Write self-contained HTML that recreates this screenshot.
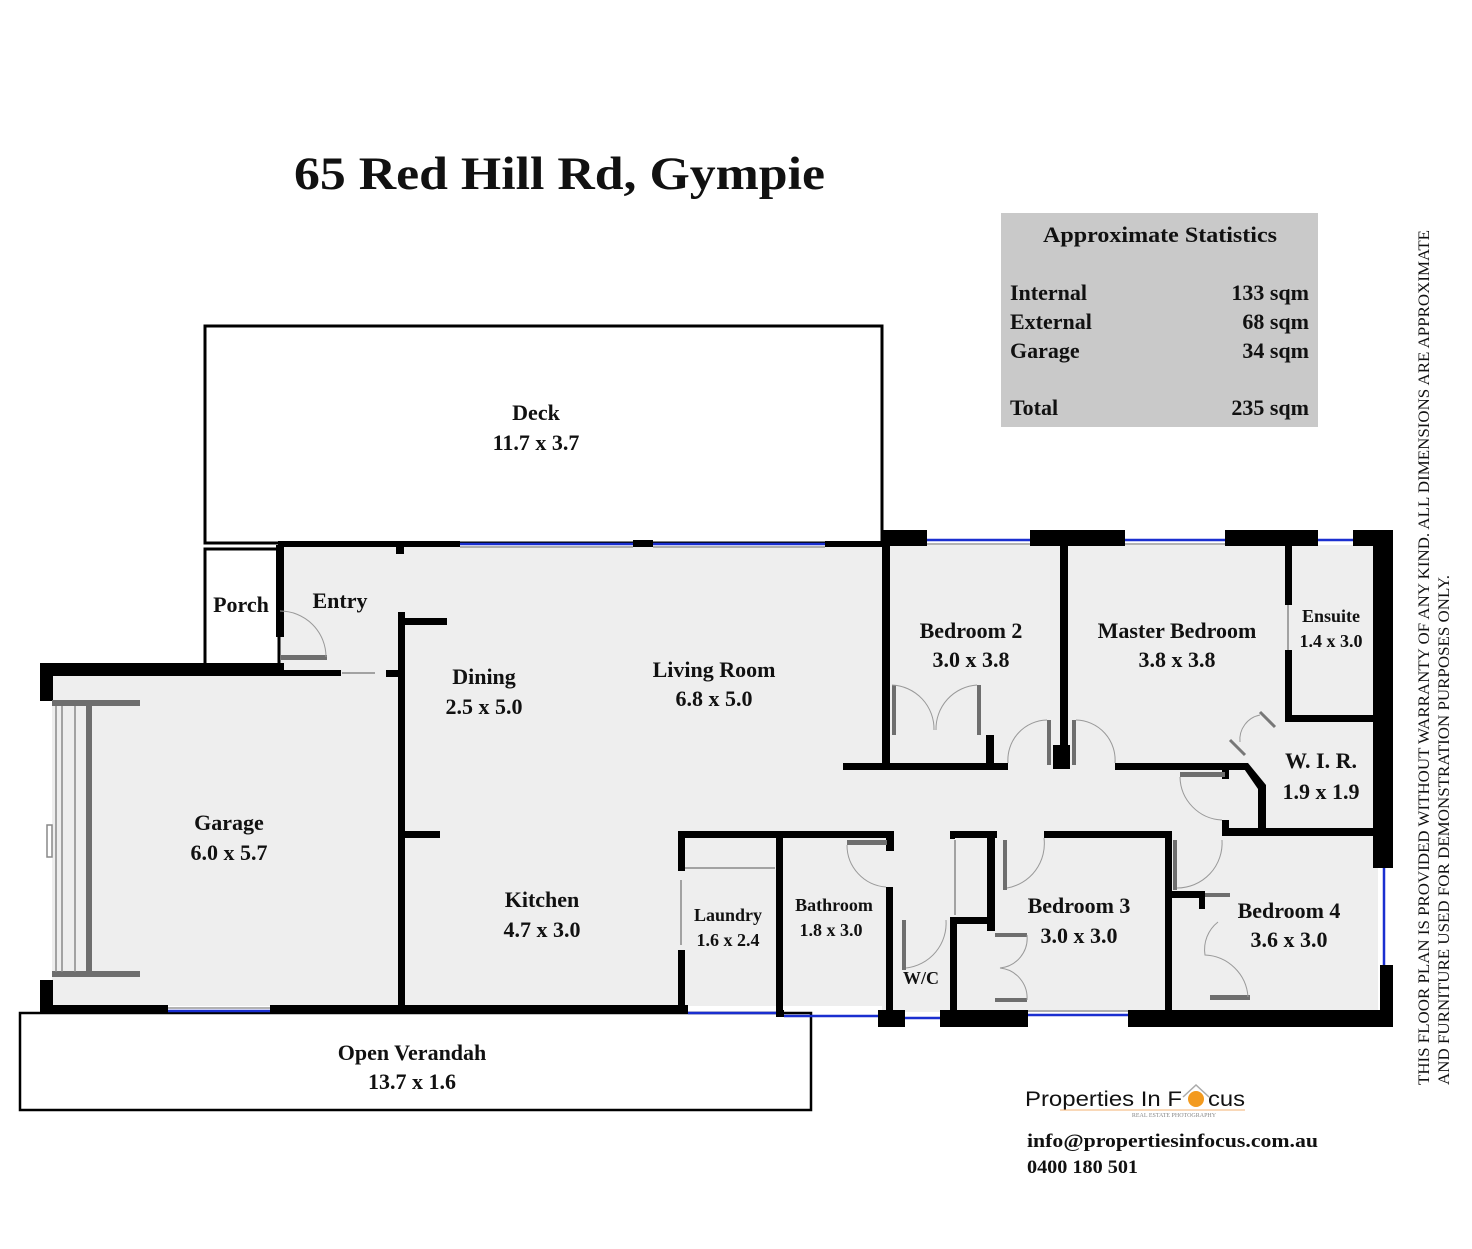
<!DOCTYPE html>
<html><head><meta charset="utf-8">
<style>
html,body{margin:0;padding:0;background:#fff;}
svg{display:block;}
text{font-family:"Liberation Serif",serif;fill:#111;}
</style></head>
<body>
<svg width="1472" height="1249" viewBox="0 0 1472 1249" xmlns="http://www.w3.org/2000/svg">
<rect width="1472" height="1249" fill="#fff"/>
<!-- title -->
<text x="294" y="189" font-size="47" font-weight="bold" textLength="531" lengthAdjust="spacingAndGlyphs">65 Red Hill Rd, Gympie</text>
<!-- stats -->
<rect x="1001" y="213" width="317" height="214" fill="#c9c9c9"/>
<text x="1043" y="242" font-size="22" font-weight="bold" textLength="234" lengthAdjust="spacingAndGlyphs">Approximate Statistics</text>
<g font-size="22" font-weight="bold">
<text x="1010" y="300">Internal</text><text x="1309" y="300" text-anchor="end">133 sqm</text>
<text x="1010" y="329">External</text><text x="1309" y="329" text-anchor="end">68 sqm</text>
<text x="1010" y="358">Garage</text><text x="1309" y="358" text-anchor="end">34 sqm</text>
<text x="1010" y="415">Total</text><text x="1309" y="415" text-anchor="end">235 sqm</text>
</g>
<!-- vertical disclaimer -->
<text transform="translate(1429,1085) rotate(-90)" font-size="15.5" textLength="855" lengthAdjust="spacingAndGlyphs">THIS FLOOR PLAN IS PROVIDED WITHOUT WARRANTY OF ANY KIND. ALL DIMENSIONS ARE APPROXIMATE</text>
<text transform="translate(1449,1085) rotate(-90)" font-size="15.5" textLength="510" lengthAdjust="spacingAndGlyphs">AND FURNITURE USED FOR DEMONSTRATION PURPOSES ONLY.</text>

<!-- floor fills -->
<rect x="52" y="676" width="348" height="330" fill="#eee"/>
<rect x="280" y="546" width="602" height="460" fill="#eee"/>
<rect x="882" y="545" width="496" height="467" fill="#eee"/>
<!-- deck -->
<rect x="205" y="326" width="677" height="217" fill="#fff" stroke="#000" stroke-width="3"/>
<!-- porch -->
<rect x="205" y="549" width="74" height="116" fill="#fff" stroke="#000" stroke-width="3"/>
<!-- verandah -->
<rect x="20" y="1013" width="791" height="97" fill="#fff" stroke="#000" stroke-width="2.5"/>

<g fill="#000">
<rect x="278" y="541" width="182" height="6"/>
<rect x="633" y="540" width="20" height="7"/>
<rect x="825" y="541" width="60" height="6"/>
<rect x="396" y="546" width="8" height="8"/>
<rect x="276" y="545" width="8" height="92"/>
<rect x="40" y="663" width="244" height="13"/>
<rect x="284" y="670" width="57" height="6"/>
<rect x="386" y="670" width="12" height="7"/>
<rect x="40" y="663" width="13" height="38"/>
<rect x="40" y="980" width="13" height="33"/>
<rect x="398" y="612" width="7" height="400"/>
<rect x="405" y="618" width="42" height="7"/>
<rect x="405" y="831" width="35" height="7"/>
<rect x="40" y="1005" width="128" height="9"/>
<rect x="270" y="1005" width="418" height="9"/>
<rect x="678" y="831" width="216" height="7"/>
<rect x="678" y="831" width="7" height="40"/>
<rect x="678" y="950" width="7" height="62"/>
<rect x="776" y="831" width="7" height="181"/>
<rect x="886" y="831" width="8" height="20"/>
<rect x="886" y="887" width="7" height="135"/>
<rect x="882" y="530" width="45" height="16"/>
<rect x="1030" y="530" width="95" height="16"/>
<rect x="1225" y="530" width="93" height="16"/>
<rect x="1353" y="530" width="40" height="16"/>
<rect x="1373" y="530" width="20" height="338"/>
<rect x="1380" y="965" width="13" height="60"/>
<rect x="882" y="545" width="8" height="224"/>
<rect x="843" y="763" width="165" height="7"/>
<rect x="1060" y="545" width="8" height="224"/>
<rect x="1053" y="745" width="17" height="24"/>
<rect x="1115" y="763" width="130" height="7"/>
<rect x="986" y="735" width="8" height="30"/>
<rect x="1285" y="545" width="7" height="60"/>
<rect x="1285" y="650" width="7" height="70"/>
<rect x="1285" y="715" width="93" height="7"/>
<polygon points="1240,763 1248,763 1266,785 1266,835 1258,835 1258,789"/>
<rect x="1222" y="828" width="156" height="8"/>
<rect x="1222" y="769" width="7" height="10"/>
<rect x="1222" y="820" width="7" height="10"/>
<rect x="950" y="831" width="47" height="7"/>
<rect x="987" y="831" width="8" height="100"/>
<rect x="950" y="831" width="5" height="8"/>
<rect x="950" y="917" width="45" height="7"/>
<rect x="950" y="917" width="7" height="98"/>
<rect x="1044" y="831" width="128" height="7"/>
<rect x="1165" y="831" width="7" height="180"/>
<rect x="1172" y="891" width="30" height="7"/>
<rect x="1199" y="891" width="6" height="18"/>
<rect x="878" y="1010" width="27" height="17"/>
<rect x="940" y="1010" width="88" height="17"/>
<rect x="1128" y="1010" width="265" height="17"/>
<rect x="776" y="1010" width="8" height="7"/>
</g>

<g stroke="#1a2fd0" stroke-width="2.5">
<line x1="460" y1="544" x2="633" y2="544"/>
<line x1="653" y1="544" x2="825" y2="544"/>
<line x1="927" y1="540" x2="1030" y2="540"/>
<line x1="1125" y1="540" x2="1225" y2="540"/>
<line x1="1318" y1="540" x2="1353" y2="540"/>
<line x1="168" y1="1011" x2="270" y2="1011"/>
<line x1="688" y1="1013" x2="776" y2="1013"/>
<line x1="784" y1="1016" x2="878" y2="1016"/>
<line x1="905" y1="1018" x2="940" y2="1018"/>
<line x1="1028" y1="1015" x2="1128" y2="1015"/>
<line x1="1384" y1="868" x2="1384" y2="965"/>
</g>
<g stroke="#999" stroke-width="1.5">
<line x1="460" y1="547" x2="633" y2="547"/>
<line x1="653" y1="547" x2="825" y2="547"/>
<line x1="927" y1="544" x2="1030" y2="544"/>
<line x1="1125" y1="544" x2="1225" y2="544"/>
<line x1="168" y1="1008" x2="270" y2="1008"/>
<line x1="1028" y1="1011" x2="1128" y2="1011"/>
</g>

<g fill="#6e6e6e">
<rect x="281" y="655" width="46" height="5"/>
<rect x="52" y="700" width="88" height="6"/>
<rect x="52" y="971" width="88" height="6"/>
<rect x="86" y="700" width="6" height="277"/>
<rect x="892" y="685" width="4" height="50"/>
<rect x="977" y="685" width="4" height="50"/>
<rect x="1047" y="720" width="4" height="45"/>
<rect x="1072" y="720" width="4" height="45"/>
<rect x="847" y="840" width="40" height="5"/>
<rect x="902" y="920" width="4" height="50"/>
<rect x="1003" y="840" width="4" height="50"/>
<rect x="1173" y="840" width="4" height="50"/>
<rect x="1180" y="772" width="45" height="5"/>
<rect x="1205" y="893" width="25" height="4"/>
<rect x="1210" y="995" width="40" height="5"/>
<rect x="995" y="933" width="32" height="4"/>
<rect x="995" y="998" width="32" height="4"/>
</g>
<g stroke="#777" stroke-width="3" fill="none">
<line x1="1260" y1="712" x2="1275" y2="727"/>
<line x1="1230" y1="740" x2="1245" y2="755"/>
</g>
<g stroke="#888" stroke-width="1.5" fill="none">
<line x1="56" y1="706" x2="56" y2="972"/>
<line x1="62" y1="706" x2="62" y2="972"/>
<line x1="75" y1="706" x2="75" y2="972"/>
<line x1="342" y1="673" x2="375" y2="673"/>
<line x1="685" y1="868" x2="775" y2="868"/>
<line x1="681" y1="880" x2="681" y2="945"/>
<line x1="1288" y1="605" x2="1288" y2="650"/>
<line x1="955" y1="840" x2="955" y2="915"/>
<rect x="47" y="825" width="5" height="32"/>
</g>
<g stroke="#999" stroke-width="1" fill="none">
<path d="M280 611 A46 46 0 0 1 326 657"/>
<path d="M892 685 A44 44 0 0 1 934 730"/>
<path d="M977 685 A44 44 0 0 0 936 730"/>
<path d="M1047 720 A40 40 0 0 0 1008 763"/>
<path d="M1076 720 A40 40 0 0 1 1115 763"/>
<path d="M847 845 A42 42 0 0 0 886 887"/>
<path d="M906 968 A45 45 0 0 0 946 920"/>
<path d="M1007 888 A45 45 0 0 0 1044 838"/>
<path d="M1177 888 A45 45 0 0 0 1222 840"/>
<path d="M1180 777 A44 44 0 0 0 1222 820"/>
<path d="M1027 935 A30 30 0 0 1 1000 968 A30 30 0 0 1 1027 1000"/>
<path d="M1218 922 A35 35 0 0 0 1205 955 A45 45 0 0 1 1248 997"/>
<path d="M1240 742 A25 25 0 0 1 1260 715"/>
</g>

<g font-size="22" font-weight="bold" text-anchor="middle">
<text x="536" y="420">Deck</text><text x="536" y="450">11.7 x 3.7</text>
<text x="241" y="612">Porch</text>
<text x="340" y="608">Entry</text>
<text x="484" y="684">Dining</text><text x="484" y="714">2.5 x 5.0</text>
<text x="714" y="677">Living Room</text><text x="714" y="706">6.8 x 5.0</text>
<text x="971" y="638">Bedroom 2</text><text x="971" y="667">3.0 x 3.8</text>
<text x="1177" y="638">Master Bedroom</text><text x="1177" y="667">3.8 x 3.8</text>
<text x="229" y="830">Garage</text><text x="229" y="860">6.0 x 5.7</text>
<text x="542" y="907">Kitchen</text><text x="542" y="937">4.7 x 3.0</text>
<text x="1079" y="913">Bedroom 3</text><text x="1079" y="943">3.0 x 3.0</text>
<text x="1289" y="918">Bedroom 4</text><text x="1289" y="947">3.6 x 3.0</text>
<text x="1321" y="768">W. I. R.</text><text x="1321" y="799">1.9 x 1.9</text>
<text x="412" y="1060">Open Verandah</text><text x="412" y="1089">13.7 x 1.6</text>
</g>
<g font-size="18" font-weight="bold" text-anchor="middle">
<text x="1331" y="622">Ensuite</text><text x="1331" y="647">1.4 x 3.0</text>
<text x="728" y="921">Laundry</text><text x="728" y="946">1.6 x 2.4</text>
<text x="834" y="911">Bathroom</text><text x="831" y="936">1.8 x 3.0</text>
<text x="921" y="984">W/C</text>
</g>

<text x="1025" y="1106" font-size="21" textLength="157" lengthAdjust="spacingAndGlyphs" style="font-family:'Liberation Sans',sans-serif">Properties In F</text>
<circle cx="1196" cy="1099" r="8" fill="#f39a1e"/>
<path d="M1183 1097 L1196 1085 L1209 1097" stroke="#aaa" stroke-width="1.5" fill="none"/>
<text x="1208" y="1106" font-size="21" textLength="37" lengthAdjust="spacingAndGlyphs" style="font-family:'Liberation Sans',sans-serif">cus</text>
<line x1="1060" y1="1110" x2="1245" y2="1110" stroke="#f3b070" stroke-width="1"/>
<text x="1174" y="1117" font-size="6" text-anchor="middle" style="fill:#888">REAL ESTATE PHOTOGRAPHY</text>
<text x="1027" y="1147" font-size="19" font-weight="bold" textLength="291" lengthAdjust="spacingAndGlyphs">info@propertiesinfocus.com.au</text>
<text x="1027" y="1173" font-size="19" font-weight="bold" textLength="111" lengthAdjust="spacingAndGlyphs">0400 180 501</text>
</svg>
</body></html>
